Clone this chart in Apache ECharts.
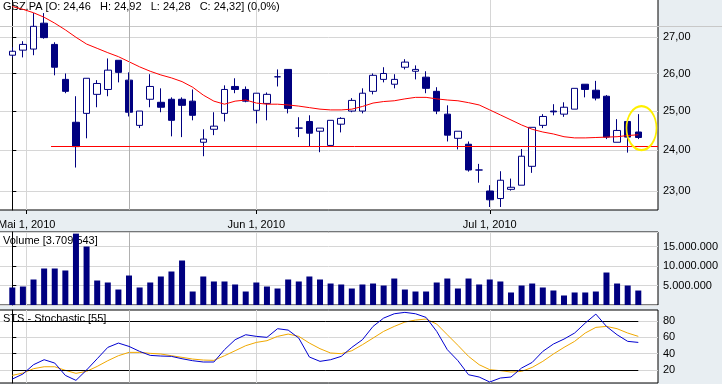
<!DOCTYPE html>
<html><head><meta charset="utf-8">
<script src="https://cdn.jsdelivr.net/npm/echarts@6/dist/echarts.min.js"></script>
<style>html,body{margin:0;padding:0;background:#e8eef2;}#c{width:722px;height:384px;}</style>
</head><body><div id="c"></div>
<script>
// ---- data ----
const dates = ['2010-04-29','2010-04-30',
 '2010-05-03','2010-05-04','2010-05-05','2010-05-06','2010-05-07','2010-05-10','2010-05-11','2010-05-12','2010-05-13','2010-05-14',
 '2010-05-17','2010-05-18','2010-05-19','2010-05-20','2010-05-21','2010-05-24','2010-05-25','2010-05-26','2010-05-27','2010-05-28','2010-05-31',
 '2010-06-01','2010-06-02','2010-06-03','2010-06-04','2010-06-07','2010-06-08','2010-06-09','2010-06-10','2010-06-11',
 '2010-06-14','2010-06-15','2010-06-16','2010-06-17','2010-06-18','2010-06-21','2010-06-22','2010-06-23','2010-06-24','2010-06-25',
 '2010-06-28','2010-06-29','2010-06-30',
 '2010-07-01','2010-07-02','2010-07-05','2010-07-06','2010-07-07','2010-07-08','2010-07-09','2010-07-12','2010-07-13','2010-07-14',
 '2010-07-15','2010-07-16','2010-07-19','2010-07-20','2010-07-21'];
const openP  = [26.50,26.64,26.67,27.40,26.80,25.84,24.71,24.94,25.44,25.57, 26.36,25.82,24.63,25.31,25.23,25.31,25.31,25.26,24.20,24.53,
                24.94,25.65,25.57,25.02,25.20,25.91,26.11,24.56,24.73,24.48, 24.12,24.66,25.00,25.00,25.52,25.84,25.71,26.17,26.06,25.90,
                25.52,24.92,24.30,24.15,23.51,23.00,22.82,23.04,23.14,23.60, 24.63,25.00,24.92,25.05,25.71,25.55,25.39,24.20,24.73,24.46];
const closeP = [26.61,26.80,27.31,26.99,26.17,25.52,24.09,25.87,25.73,26.09, 26.03,24.97,25.00,25.65,25.10,24.76,25.15,24.89,24.28,24.61,
                25.57,25.57,25.26,25.47,25.44,25.91,25.07,24.56,24.43,24.56, 24.76,24.81,25.28,25.47,25.95,26.00,25.84,26.31,26.11,25.60,
                25.00,24.38,24.48,23.51,23.51,22.79,23.26,23.09,23.85,24.58, 24.86,24.98,25.10,25.60,25.57,25.34,24.33,24.50,24.33,24.32];
const lowP   = [26.44,26.44,26.50,26.96,25.95,25.47,23.57,24.30,25.10,25.39, 25.76,24.86,24.56,25.10,24.97,24.35,24.33,24.76,23.85,24.38,
                24.73,25.47,25.23,24.68,24.76,25.65,24.94,24.33,24.10,23.95, 24.12,24.45,24.97,24.94,25.44,25.76,25.60,26.11,25.84,25.47,
                24.92,24.22,24.02,23.47,23.20,22.62,22.62,23.01,23.14,23.44, 24.56,24.89,24.85,25.05,25.36,25.28,24.28,24.20,23.94,24.28];
const highP  = [26.72,26.89,27.69,27.69,26.86,26.00,25.39,25.87,25.82,26.41, 26.36,26.03,25.00,25.98,25.60,25.36,25.36,25.57,24.53,24.97,
                25.68,25.87,25.65,25.47,25.49,26.11,26.11,24.84,24.89,24.56, 24.76,24.84,25.34,25.60,26.00,26.17,25.98,26.39,26.22,26.06,
                25.63,25.15,24.48,24.22,23.66,23.14,23.48,23.30,24.03,24.58, 24.92,25.18,25.23,25.60,25.71,25.80,25.42,24.79,24.73,24.92];
const maLine = [27.88,27.80,27.70,27.57,27.40,27.21,27.00,26.81,26.69,26.57, 26.46,26.32,26.18,26.06,25.96,25.88,25.78,25.63,25.42,25.26,
                25.18,25.26,25.29,25.21,25.18,25.18,25.16,25.13,25.09,25.05, 25.03,25.03,25.05,25.12,25.21,25.25,25.27,25.32,25.36,25.36,
                25.32,25.29,25.27,25.22,25.16,25.03,24.90,24.77,24.64,24.53, 24.46,24.41,24.34,24.31,24.31,24.32,24.33,24.34,24.37,24.39];
const volume = [4490000,4740000,6540000,9360000,9360000,8850000,18300000,15000000,6280000,5770000,
                3970000,7560000,4490000,5770000,7310000,8590000,11410000,3460000,7310000,6030000,
                6030000,5260000,3460000,5770000,4740000,4230000,6540000,6030000,7310000,6540000,
                5510000,5260000,4230000,5260000,5510000,5000000,6790000,3970000,3460000,3460000,
                5770000,6790000,4230000,6790000,5260000,6540000,6030000,3210000,5000000,5510000,
                4490000,3720000,2440000,3210000,3210000,3460000,8330000,5510000,5000000,3709543];
const stochK = [8.9,15.1,26.5,32.6,28.5,13.4,7.3,20.0,33.8,47.7, 53.0,48.9,42.8,37.9,37.1,36.7,33.8,31.4,29.8,29.8,
                44.9,57.1,63.2,61.2,60.0,70.6,68.9,59.1,35.9,30.6, 32.6,36.7,47.7,57.1,73.4,83.6,88.9,90.6,88.9,84.4,
                67.3,44.9,31.4,14.2,11.4,5.3,10.2,11.4,22.4,29.3, 42.8,51.8,57.9,65.3,77.5,88.5,73.4,63.2,55.1,53.8];
const stochD = [13.4,16.3,21.6,24.0,24.0,19.6,15.9,18.3,24.4,31.4, 37.5,41.6,41.6,40.4,39.6,37.5,35.5,33.4,32.2,31.8,
                37.5,43.6,49.8,53.8,55.9,61.2,64.0,61.2,53.0,46.1, 40.8,40.0,43.6,51.0,59.1,67.3,73.4,78.7,81.2,82.4,
                76.3,63.2,50.2,36.7,26.5,20.4,19.2,17.5,18.3,23.2, 30.6,39.6,47.7,55.1,65.3,72.2,73.4,70.6,65.3,61.2];
const supportLevel = 24.10;      // drawn support line
const supportFrom = 3.65;        // index where the drawn line starts
const cursorIndex = 11;          // crosshair position
const xTickAt = [1.36, 23, 45];  // Mai 1 falls between Apr 30 and May 3
const xTickLabels = ['Mai 1, 2010', 'Jun 1, 2010', 'Jul 1, 2010'];
const priceTicks = [23, 24, 25, 26, 27];
const stochTicks = [20, 40, 60, 80];
const stochLevels = [20, 80];
const titleMain = 'GSZ.PA [O: 24,46   H: 24,92   L: 24,28   C: 24,32] (0,0%)';
const titleVol = 'Volume [3.709.543]';
const titleSto = 'STS - Stochastic [55]';

// ---- chart ----
const FONT = 'Liberation Sans, Arial, sans-serif';
const GRID = '#d6d6d6';
const NAVY = '#000080';
const n = dates.length;
const xMin = -1.2535, xMax = 60.857;

const candles = dates.map((d, i) => [i, openP[i], closeP[i], lowP[i], highP[i]]);
const vols = volume.map((v, i) => [i, v]);
const maData = maLine.map((v, i) => [i, v]);
const kData = stochK.map((v, i) => [i, v]);
const dData = stochD.map((v, i) => [i, v]);

function xAxis(gi, labels) {
  return {
    type: 'value', gridIndex: gi, min: xMin, max: xMax,
    axisLine: { show: false },
    axisTick: { show: labels, customValues: xTickAt, length: 4, lineStyle: { color: '#000' } },
    axisLabel: {
      show: labels, customValues: xTickAt, margin: 9, color: '#000', fontSize: 11, fontFamily: FONT,
      formatter: v => { const k = xTickAt.findIndex(t => Math.abs(t - v) < 1e-6); return k >= 0 ? xTickLabels[k] : ''; }
    },
    splitLine: { show: true, lineStyle: { color: GRID, width: 1 } }
  };
}
const lbl = { color: '#000', fontSize: 11, fontFamily: FONT, margin: 5 };
const tick = { show: true, length: 4, lineStyle: { color: '#000' } };
const cursorLine = { silent: true, symbol: 'none', label: { show: false }, lineStyle: { color: '#b0b0b0', width: 1, type: 'solid' }, data: [{ xAxis: cursorIndex }] };
const gridBase = { show: true, backgroundColor: '#fff', borderColor: '#000', borderWidth: 1, left: -1, width: 659,
                   containLabel: false, outerBoundsMode: 'none' };
const titleStyle = { fontSize: 11, fontWeight: 'normal', fontFamily: FONT, color: '#000' };
const ellipse = 'path://M0,50 A50,50 0 1,1 100,50 A50,50 0 1,1 0,50 Z';

const option = {
  animation: false,
  backgroundColor: '#e8eef2',
  title: [
    { text: titleMain, left: 3, top: 1.5, padding: 0, z: 1, textStyle: titleStyle },
    { text: titleVol, left: 3, top: 235, padding: 0, z: 1, textStyle: titleStyle },
    { text: titleSto, left: 3, top: 313.5, padding: 0, z: 1, textStyle: titleStyle }
  ],
  graphic: [{ type: 'line', z: 1, silent: true, shape: { x1: 0, y1: 26.5, x2: 722, y2: 26.5 }, style: { stroke: '#c8c8c8', lineWidth: 1 } }],
  grid: [
    Object.assign({}, gridBase, { top: -1, height: 211 }),
    Object.assign({}, gridBase, { top: 232, height: 73 }),
    Object.assign({}, gridBase, { top: 310, height: 73 })
  ],
  xAxis: [xAxis(0, true), xAxis(1, false), xAxis(2, false)],
  yAxis: [
    { type: 'log', logBase: 10, gridIndex: 0, position: 'right', min: 22.549, max: 28.10,
      axisLine: { show: true, lineStyle: { color: '#000' } },
      axisTick: Object.assign({ customValues: priceTicks }, tick),
      axisLabel: Object.assign({ customValues: priceTicks, formatter: v => v.toFixed(2).replace('.', ',') }, lbl),
      splitLine: { show: true, lineStyle: { color: GRID } } },
    { type: 'value', gridIndex: 1, position: 'right', min: 0, max: 18720000, interval: 5000000,
      axisLine: { show: true, lineStyle: { color: '#000' } },
      axisTick: tick,
      axisLabel: Object.assign({ showMinLabel: false, showMaxLabel: false,
        formatter: v => Math.round(v).toString().replace(/\B(?=(\d{3})+(?!\d))/g, '.') }, lbl),
      splitLine: { show: true, lineStyle: { color: GRID } } },
    { type: 'value', gridIndex: 2, position: 'right', min: 4.08, max: 93.5,
      axisLine: { show: true, lineStyle: { color: '#000' } },
      axisTick: Object.assign({ customValues: stochTicks }, tick),
      axisLabel: Object.assign({ customValues: stochTicks }, lbl),
      splitLine: { show: true, lineStyle: { color: GRID } } }
  ],
  series: [
    { type: 'candlestick', xAxisIndex: 0, yAxisIndex: 0, data: candles, encode: { x: 0, y: [1, 2, 3, 4] },
      barWidth: 7, z: 3,
      itemStyle: { color: '#ffffff', color0: NAVY, borderColor: NAVY, borderColor0: NAVY, borderColorDoji: NAVY, borderWidth: 1 },
      markLine: cursorLine,
      markPoint: { silent: true, symbol: ellipse, symbolSize: [30, 44], label: { show: false },
        itemStyle: { color: 'rgba(0,0,0,0)', borderColor: '#fff000', borderWidth: 2 },
        data: [{ coord: [n - 1 + 0.3, 24.56] }] } },
    { type: 'line', xAxisIndex: 0, yAxisIndex: 0, data: maData, showSymbol: false, z: 4,
      lineStyle: { color: '#ff0000', width: 1 },
      markLine: { silent: true, symbol: 'none', label: { show: false }, lineStyle: { color: '#ff0000', width: 1, type: 'solid' },
        data: [[{ coord: [supportFrom, supportLevel] }, { coord: [xMax, supportLevel] }]] } },
    { type: 'bar', xAxisIndex: 1, yAxisIndex: 1, data: vols, barWidth: 6, z: 5,
      itemStyle: { color: NAVY }, markLine: cursorLine },
    { type: 'line', xAxisIndex: 2, yAxisIndex: 2, data: dData, showSymbol: false, z: 4,
      lineStyle: { color: '#f0a800', width: 1 },
      markLine: { silent: true, symbol: 'none', label: { show: false }, lineStyle: { color: '#000', width: 1, type: 'solid' },
        data: stochLevels.map(l => [{ coord: [0, l] }, { coord: [n - 1, l] }]) } },
    { type: 'line', xAxisIndex: 2, yAxisIndex: 2, data: kData, showSymbol: false, z: 5,
      lineStyle: { color: '#0000d0', width: 1 }, markLine: cursorLine }
  ]
};
const chart = echarts.init(document.getElementById('c'));
chart.setOption(option);
</script>
</body></html>
